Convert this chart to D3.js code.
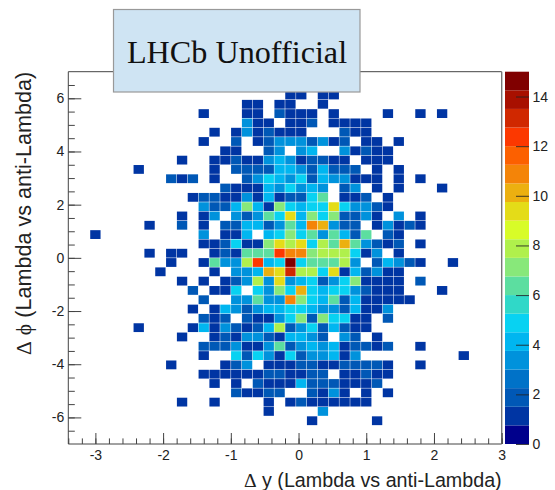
<!DOCTYPE html>
<html><head><meta charset="utf-8">
<script src="https://cdn.jsdelivr.net/npm/d3@7"></script>
<style>html,body{margin:0;padding:0;background:#fff}svg{display:block}</style>
</head><body><svg id="c" width="555" height="490"></svg>
<script>
const boxTitle = "LHCb Unofficial";
const titleTail = "(Lambda vs anti-Lambda)";
const xSymbol = "y", ySymbol = "\u03d5", deltaSymbol = "\u0394";
const xTicks = [-3,-2,-1,0,1,2,3];
const yTicks = [-6,-4,-2,0,2,4,6];
const zTicks = [0,2,4,6,8,10,12,14];
const xDomain = [-3.4,3], yDomain = [-7,7], zDomain = [0,15];
const nBins = 40;
const palette = ["#00008c","#0035a3","#0058b6","#0072c8","#0092dc","#00b6f0","#08d2f2","#30d8c8","#5cdea0","#88e87a","#b0f04c","#d8fc28","#e4dc18","#ecb010","#f48408","#fc6000","#fc3800","#d02800","#a81000","#800000"];
// sparse rows of the 2D histogram: [row from top, first column, counts in hex, "." = empty]
const cellRows = [
[2,20,"11.11"],
[3,16,"11.11..1"],
[4,12,"1...11.2111.1....1..1.1"],
[5,16,"311.112.1111"],
[6,13,"1.1312111...211"],
[7,12,"1..2.123332312.11.1"],
[8,14,"11..23.34..31211"],
[9,10,"1..1121134312211.111"],
[10,6,"1......1.222244324222.1.1"],
[11,9,"212.1..2354352433111.1.1"],
[12,14,"2111435343.23.1.1...1"],
[13,11,"1221131412256.112.1"],
[14,12,"322474175455953321"],
[15,10,"1.13.32365947572231.3.1"],
[16,7,"1..2.1.22442364ba322.13121"],
[17,2,"1.........3.114.4575636426.21"],
[18,12,"1125117989586a63212.1"],
[19,7,"1.11..121666cbb7888513.1"],
[20,9,"1..16338c45f566683.24321..1"],
[21,8,"1....1.334a9d8859142311"],
[22,10,"1.1.12383934523571111.2"],
[23,11,"2.115.5375a545532111...1"],
[24,12,"2..33633b75462411111"],
[25,11,"1.14323445543324113"],
[26,12,"212.211357275511.2"],
[27,6,"1....14132124823524211"],
[28,10,"1..12133214432.32.1"],
[29,12,"222311362343412212..1"],
[30,12,"1..525315233413.........1"],
[31,9,"1....123.111221122221..1"],
[32,12,"111111221122.11211"],
[33,13,"1.1.211142221112"],
[34,15,"21122..2131.1.1"],
[35,10,"1..1....1.12111111"],
[36,18,"1....3"],
[37,22,"1.....1"]
];

const L=68.3,R=501.7,T=71.7,B=444;
const svg=d3.select("#c");
const x=d3.scaleLinear().domain(xDomain).range([L,R]);
const y=d3.scaleLinear().domain(yDomain).range([B,T]);
const color=d3.scaleQuantize().domain(zDomain).range(palette);
const z=d3.scaleLinear().domain(zDomain).range([B,T]);
const binW=(xDomain[1]-xDomain[0])/nBins, binH=(yDomain[1]-yDomain[0])/nBins;
const cells=[];
cellRows.forEach(([j,c0,s])=>{[...s].forEach((ch,k)=>{if(ch!=="."){cells.push({i:c0+k,j,v:parseInt(ch,16)});}});});

svg.append("g").selectAll("rect").data(cells).join("rect")
 .attr("x",d=>x(xDomain[0]+d.i*binW)+0.25)
 .attr("width",x(binW)-x(0)-0.5)
 .attr("y",d=>y(yDomain[1]-d.j*binH)+0.25)
 .attr("height",y(0)-y(binH)-0.5)
 .attr("fill",d=>color(d.v));

// frame
const ink="#444";
svg.append("path").attr("d",`M${L},${T}H${R}`).attr("stroke",ink).attr("fill","none");
svg.append("path").attr("d",`M${L},${T}V${B}H${R}`).attr("stroke",ink).attr("fill","none");
svg.append("path").attr("d",`M${R},${T}V${B}`).attr("stroke","#777").attr("stroke-width",1.4).attr("fill","none");

const font="'Liberation Sans',Arial,sans-serif";
const serif="'Liberation Serif',serif";
// x axis with inward ticks
const gx=svg.append("g").attr("transform",`translate(0,${B})`);
gx.call(d3.axisBottom(x).tickValues(d3.range(-17,16).map(v=>v/5)).tickSize(-5.6).tickFormat(""));
gx.select(".domain").remove();
gx.selectAll("line").attr("stroke",ink);
const gx2=svg.append("g").attr("transform",`translate(0,${B})`);
gx2.call(d3.axisBottom(x).tickValues(xTicks).tickSize(-11).tickPadding(4).tickFormat(d3.format("d")));
gx2.select(".domain").remove();
gx2.selectAll("line").attr("stroke",ink);
gx2.selectAll("text").attr("dy",0).attr("y",15.5).attr("font-family",font).attr("font-size",14).attr("fill","#222").text(d=>String(d));

const gy=svg.append("g").attr("transform",`translate(${L},0)`);
gy.call(d3.axisLeft(y).tickValues(d3.range(-13,14).map(v=>v/2)).tickSize(-6.5).tickFormat(""));
gy.select(".domain").remove();
gy.selectAll("line").attr("stroke",ink);
const gy2=svg.append("g").attr("transform",`translate(${L},0)`);
gy2.call(d3.axisLeft(y).tickValues(yTicks).tickSize(-13).tickPadding(0).tickFormat(d3.format("d")));
gy2.select(".domain").remove();
gy2.selectAll("line").attr("stroke",ink);
gy2.selectAll("text").attr("x",-4).attr("font-family",font).attr("font-size",14).attr("fill","#222").text(d=>String(d));

// colour bar
const cbL=505,cbR=529;
const bands=palette.map((c,i)=>({c,range:color.invertExtent(c)}));
svg.append("g").selectAll("rect").data(bands).join("rect")
 .attr("x",cbL).attr("width",cbR-cbL)
 .attr("y",d=>z(d.range[1])).attr("height",d=>z(d.range[0])-z(d.range[1]))
 .attr("fill",d=>d.c);
const gz=svg.append("g").attr("transform",`translate(${cbR},0)`);
gz.call(d3.axisRight(z).tickValues(zTicks).tickSize(0).tickPadding(3.5));
gz.select(".domain").remove();
gz.selectAll("line").attr("x1",-13).attr("x2",0).attr("stroke","#222").attr("stroke-opacity",0.85);
gz.selectAll("text").attr("font-family",font).attr("font-size",14).attr("fill","#222");

// titles
function axisTitle(sel,sym,size){
  sel.attr("text-anchor","end").attr("font-family",font).attr("font-size",size).attr("fill","#222");
  sel.append("tspan").attr("font-family",serif).text(deltaSymbol);
  sel.append("tspan").text(" ");
  sel.append("tspan").attr("font-family",sym==="y"?font:serif).text(sym);
  sel.append("tspan").text(" "+titleTail);
}
axisTitle(svg.append("text").attr("x",501.7).attr("y",486.5),xSymbol,19.7);
axisTitle(svg.append("text").attr("transform","translate(31,71.7) rotate(-90)"),ySymbol,21.6);

// text box
svg.append("rect").attr("x",113.5).attr("y",9.5).attr("width",246.5).attr("height",82.5).attr("fill","#cfe4f3").attr("stroke","#999").attr("stroke-width",1.2);
svg.append("text").attr("x",237).attr("y",63.3).attr("text-anchor","middle").attr("font-family",serif).attr("font-size",32.2).attr("fill","#111").text(boxTitle);
</script></body></html>
